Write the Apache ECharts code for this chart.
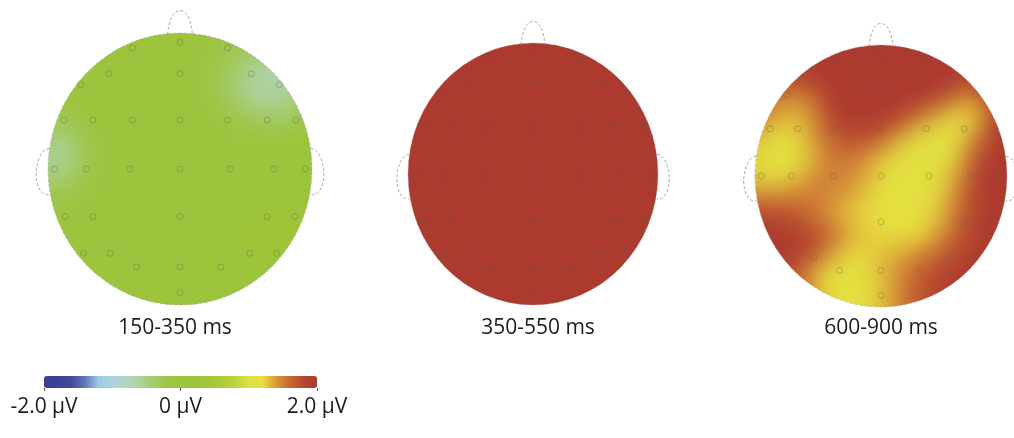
<!DOCTYPE html>
<html>
<head>
<meta charset="utf-8">
<script src="https://cdn.jsdelivr.net/npm/echarts@6/dist/echarts.min.js"></script>
<style>
  html, body { margin: 0; padding: 0; background: #fff; }
  #wrap { position: relative; width: 1014px; height: 438px; overflow: hidden; }
  #overlay { position: absolute; left: 0; top: 0; width: 1014px; height: 438px; }
  /* the map layer overhangs the page so the blur has colour to draw from at the edges */
  #maps { position: absolute; left: -100px; top: -100px; width: 1214px; height: 638px; filter: blur(12px); }
</style>
</head>
<body>
<div id="wrap">
  <div id="maps"></div>
  <div id="overlay"></div>
</div>
<script>
// ---- data -----------------------------------------------------------------
const TIME_WINDOWS = ['150-350 ms', '350-550 ms', '600-900 ms'];
const SCALE_MIN = -2;
const SCALE_MAX = 2;
const SCALE_TICK = 2;

// electrode sites, normalised head coordinates (x right, y towards the back)
const ELECTRODES = [
  [0, -0.93],
  [-0.36, -0.89], [0.36, -0.89],
  [-0.54, -0.70], [0, -0.70], [0.54, -0.70],
  [-0.75, -0.62], [0.75, -0.62],
  [-0.88, -0.36], [-0.66, -0.36], [-0.36, -0.36], [0, -0.36], [0.36, -0.36], [0.66, -0.36], [0.88, -0.36],
  [-0.95, 0], [-0.71, 0], [-0.38, 0], [0, 0], [0.38, 0], [0.71, 0], [0.95, 0],
  [-0.87, 0.35], [-0.66, 0.35], [0, 0.35], [0.66, 0.35], [0.87, 0.35],
  [-0.73, 0.62], [-0.53, 0.62], [0.53, 0.62], [0.73, 0.62],
  [-0.33, 0.72], [0, 0.72], [0.31, 0.72],
  [0, 0.91]
];

// scalp amplitude (µV) on a 15 x 15 raster, rows front to back, columns left to right
const MAP_150_350 = [
  [0.1, 0.1, 0.1, 0.1, 0.1, 0.1, 0.1, 0.1, 0.1, 0.0, -0.1, -0.15, -0.15, -0.1, 0.0],
  [0.1, 0.1, 0.1, 0.1, 0.1, 0.1, 0.1, 0.1, 0.05, -0.1, -0.25, -0.35, -0.35, -0.3, -0.1],
  [0.1, 0.1, 0.1, 0.1, 0.1, 0.1, 0.1, 0.05, -0.05, -0.25, -0.4, -0.6, -0.65, -0.5, -0.3],
  [0.1, 0.1, 0.1, 0.1, 0.1, 0.1, 0.1, 0.1, -0.05, -0.25, -0.5, -0.65, -0.7, -0.55, -0.3],
  [0.0, 0.0, 0.1, 0.1, 0.1, 0.1, 0.1, 0.1, 0.05, -0.1, -0.3, -0.45, -0.5, -0.4, -0.2],
  [-0.3, -0.4, -0.15, 0.0, 0.1, 0.1, 0.1, 0.1, 0.1, 0.05, -0.1, -0.15, -0.15, -0.1, 0.0],
  [-0.5, -0.6, -0.3, -0.05, 0.1, 0.1, 0.1, 0.1, 0.1, 0.1, 0.05, 0.0, 0.0, 0.05, 0.1],
  [-0.45, -0.55, -0.25, 0.0, 0.1, 0.1, 0.1, 0.1, 0.1, 0.1, 0.1, 0.1, 0.1, 0.1, 0.1],
  [-0.25, -0.3, -0.1, 0.05, 0.1, 0.1, 0.1, 0.1, 0.1, 0.1, 0.1, 0.15, 0.15, 0.15, 0.15],
  [-0.1, -0.1, 0.0, 0.1, 0.1, 0.1, 0.1, 0.1, 0.1, 0.15, 0.2, 0.25, 0.25, 0.25, 0.25],
  [0.0, 0.05, 0.1, 0.1, 0.1, 0.1, 0.1, 0.1, 0.15, 0.2, 0.25, 0.25, 0.25, 0.25, 0.25],
  [0.1, 0.1, 0.1, 0.1, 0.1, 0.1, 0.1, 0.1, 0.15, 0.2, 0.25, 0.25, 0.25, 0.25, 0.25],
  [0.1, 0.1, 0.1, 0.1, 0.1, 0.1, 0.1, 0.1, 0.15, 0.2, 0.2, 0.25, 0.25, 0.25, 0.25],
  [0.1, 0.1, 0.1, 0.1, 0.1, 0.1, 0.1, 0.1, 0.1, 0.15, 0.2, 0.2, 0.2, 0.2, 0.2],
  [0.1, 0.1, 0.1, 0.1, 0.1, 0.1, 0.1, 0.1, 0.1, 0.15, 0.2, 0.2, 0.2, 0.2, 0.2]
];

const MAP_350_550 = [
  [2, 2, 2, 2, 2, 2, 2, 2, 2, 2, 2, 2, 2, 2, 2],
  [2, 2, 2, 2, 2, 2, 2, 2, 2, 2, 2, 2, 2, 2, 2],
  [2, 2, 2, 2, 2, 2, 2, 2, 2, 2, 2, 2, 2, 2, 2],
  [2, 2, 2, 2, 2, 2, 2, 2, 2, 2, 2, 2, 2, 2, 2],
  [2, 2, 2, 2, 2, 2, 2, 2, 2, 2, 2, 2, 2, 2, 2],
  [2, 2, 2, 2, 2, 2, 2, 2, 2, 2, 2, 2, 2, 2, 2],
  [2, 2, 2, 2, 2, 2, 2, 2, 2, 2, 2, 2, 2, 2, 2],
  [2, 2, 2, 2, 2, 2, 2, 2, 2, 2, 2, 2, 2, 2, 2],
  [2, 2, 2, 2, 2, 2, 2, 2, 2, 2, 2, 2, 2, 2, 2],
  [2, 2, 2, 2, 2, 2, 2, 2, 2, 2, 2, 2, 2, 2, 2],
  [2, 2, 2, 2, 2, 2, 2, 2, 2, 2, 2, 2, 2, 2, 2],
  [2, 2, 2, 2, 2, 2, 2, 2, 2, 2, 2, 2, 2, 2, 2],
  [2, 2, 2, 2, 2, 2, 2, 2, 2, 2, 2, 2, 2, 2, 2],
  [2, 2, 2, 2, 2, 2, 2, 2, 2, 2, 2, 2, 2, 2, 2],
  [2, 2, 2, 2, 2, 2, 2, 2, 2, 2, 2, 2, 2, 2, 2]
];

const MAP_600_900 = [
  [2, 2, 2, 2, 2, 2, 2, 2, 2, 2, 2, 2, 2, 2, 2],
  [1.9, 1.9, 1.9, 2, 2, 2, 2, 2, 2, 2, 2, 2, 2, 2, 2],
  [1.8, 1.8, 1.8, 1.9, 2, 2, 2, 2, 2, 2, 2, 2, 1.9, 1.9, 2],
  [1.7, 1.55, 1.45, 1.45, 1.9, 2, 2, 2, 2, 2, 2, 1.55, 1.4, 1.8, 2],
  [1.55, 1.4, 1.3, 1.35, 1.75, 2, 2, 2, 1.9, 1.55, 1.3, 1.15, 1.2, 1.75, 2],
  [1.35, 1.15, 1.1, 1.3, 1.6, 1.75, 1.8, 1.7, 1.35, 1.1, 1.05, 1.1, 1.45, 1.95, 2],
  [1.25, 1.05, 1.05, 1.25, 1.5, 1.55, 1.5, 1.3, 1.1, 1.05, 1.05, 1.15, 1.7, 2, 2],
  [1.25, 1.1, 1.15, 1.35, 1.55, 1.5, 1.4, 1.2, 1.05, 1.05, 1.1, 1.35, 1.85, 2, 2],
  [1.5, 1.45, 1.5, 1.55, 1.5, 1.4, 1.3, 1.15, 1.05, 1.05, 1.15, 1.45, 1.85, 2, 2],
  [1.85, 1.8, 1.75, 1.6, 1.45, 1.3, 1.2, 1.15, 1.1, 1.1, 1.25, 1.55, 1.9, 2, 2],
  [2, 2, 1.95, 1.85, 1.7, 1.45, 1.3, 1.2, 1.15, 1.2, 1.35, 1.65, 1.9, 2, 2],
  [2, 2, 2, 1.9, 1.55, 1.25, 1.2, 1.3, 1.35, 1.45, 1.6, 1.8, 1.95, 2, 2],
  [1.95, 1.9, 1.85, 1.5, 1.15, 1.05, 1.1, 1.3, 1.45, 1.65, 1.8, 1.9, 2, 2, 2],
  [1.85, 1.85, 1.8, 1.5, 1.2, 1.1, 1.1, 1.25, 1.5, 1.7, 1.85, 2, 2, 2, 2],
  [1.85, 1.85, 1.8, 1.5, 1.25, 1.15, 1.15, 1.3, 1.5, 1.7, 1.85, 2, 2, 2, 2]
];

const MAPS = [MAP_150_350, MAP_350_550, MAP_600_900];

// ---- styling / layout -------------------------------------------------------
// colour scale from -2 µV to +2 µV in 0.2 µV steps
const COLORMAP = [
  '#3a3f94', '#3c4297', '#434a9c', '#6478b4', '#9ccbe5', '#aad5de', '#b2d5c0',
  '#aed1a0', '#a4cb6c', '#9dc545', '#9cc43d', '#9cc43a', '#a2c63a', '#aecb3b',
  '#c0d33d', '#dde140', '#e9de40', '#d99a36', '#c76a33', '#b7462f', '#ad3a2e'
];

const FONT = '"Open Sans", "Liberation Sans", sans-serif';
const TEXT_COLOR = '#1c1c1c';
const HEADS = [
  { cx: 180, cy: 169, rx: 132, ry: 136, labelX: 175 },
  { cx: 533, cy: 174, rx: 125, ry: 131, labelX: 538 },
  { cx: 881, cy: 176, rx: 126, ry: 131, labelX: 881 }
];
const LABEL_Y = 328;
const RASTER_PAD = 1.1;    // raster reaches a little past the scalp edge
const BACKING_PAD = 1.4;   // stretched copy underneath keeps the blur from pulling in white
const MAP_OFFSET = 100;    // the map layer starts this far above/left of the page
const BAR = { left: 44, top: 376, width: 273, height: 12 };

// ---- scalp maps (blurred, clipped to the scalp outline) ----------------------
const mapsEl = document.getElementById('maps');
const clipPath = HEADS.map(h => {
  const cx = h.cx + MAP_OFFSET, cy = h.cy + MAP_OFFSET;
  return `M ${cx - h.rx} ${cy} A ${h.rx} ${h.ry} 0 1 0 ${cx + h.rx} ${cy} ` +
         `A ${h.rx} ${h.ry} 0 1 0 ${cx - h.rx} ${cy} Z`;
}).join(' ');
mapsEl.style.clipPath = `path('${clipPath}')`;

function toCells(rows) {
  const out = [];
  rows.forEach((row, j) => row.forEach((v, i) => out.push([i, j, v])));
  return out;
}

const rasterGrid = (h, pad) => ({
  left: h.cx + MAP_OFFSET - pad * h.rx, top: h.cy + MAP_OFFSET - pad * h.ry,
  width: 2 * pad * h.rx, height: 2 * pad * h.ry
});
const layers = [BACKING_PAD, RASTER_PAD];
const grids = [], xAxes = [], yAxes = [], mapSeries = [];
layers.forEach(pad => {
  MAPS.forEach((m, k) => {
    const g = grids.length;
    grids.push(rasterGrid(HEADS[k], pad));
    xAxes.push({ type: 'category', gridIndex: g, show: false, data: m[0].map((_, i) => i) });
    yAxes.push({ type: 'category', gridIndex: g, show: false, inverse: true, data: m.map((_, j) => j) });
    mapSeries.push({
      type: 'heatmap', xAxisIndex: g, yAxisIndex: g, data: toCells(m),
      itemStyle: { borderWidth: 0 }, emphasis: { disabled: true }, silent: true
    });
  });
});

const mapChart = echarts.init(mapsEl, null, { renderer: 'canvas' });
mapChart.setOption({
  animation: false,
  grid: grids,
  xAxis: xAxes,
  yAxis: yAxes,
  visualMap: {
    type: 'continuous', show: false, min: SCALE_MIN, max: SCALE_MAX,
    seriesIndex: mapSeries.map((_, i) => i), inRange: { color: COLORMAP }
  },
  series: mapSeries
});

// ---- overlay: electrodes, head outline, labels, colour bar ------------------
function headOutline(params, api) {
  const c = api.coord([0, 0]);
  const e = api.coord([1, 1]);
  const rx = e[0] - c[0], ry = e[1] - c[1];
  const P = (x, y) => (c[0] + x * rx).toFixed(1) + ' ' + (c[1] + y * ry).toFixed(1);
  const line = { fill: 'none', stroke: 'rgba(140,140,140,0.75)', lineWidth: 1, lineDash: [3, 2] };
  const nose = `M ${P(-0.095, -0.985)} C ${P(-0.085, -1.10)} ${P(-0.05, -1.165)} ${P(0, -1.165)} ` +
               `C ${P(0.05, -1.165)} ${P(0.085, -1.10)} ${P(0.095, -0.985)}`;
  const ear = s => `M ${P(s * 0.99, -0.15)} C ${P(s * 1.06, -0.15)} ${P(s * 1.09, -0.03)} ${P(s * 1.09, 0.04)} ` +
                   `C ${P(s * 1.09, 0.13)} ${P(s * 1.05, 0.20)} ${P(s * 0.99, 0.19)}`;
  const rim = `M ${P(-1, 0)} A ${rx} ${ry} 0 1 0 ${P(1, 0)} A ${rx} ${ry} 0 1 0 ${P(-1, 0)} Z`;
  return {
    type: 'group',
    children: [
      { type: 'path', shape: { pathData: rim }, style: Object.assign({}, line, { stroke: 'rgba(150,150,150,0.45)' }) },
      { type: 'path', shape: { pathData: nose }, style: line },
      { type: 'path', shape: { pathData: ear(-1) }, style: line },
      { type: 'path', shape: { pathData: ear(1) }, style: line }
    ]
  };
}

const overlay = echarts.init(document.getElementById('overlay'), null, { renderer: 'canvas' });
const headGrids = HEADS.map(h => ({ left: h.cx - h.rx, top: h.cy - h.ry, width: 2 * h.rx, height: 2 * h.ry }));
const series = [];
HEADS.forEach((h, k) => {
  series.push({
    type: 'custom', xAxisIndex: k, yAxisIndex: k, silent: true, clip: false,
    data: [[0, 0]], renderItem: headOutline
  });
  series.push({
    type: 'scatter', xAxisIndex: k, yAxisIndex: k, silent: true,
    data: ELECTRODES, symbol: 'circle', symbolSize: 6,
    itemStyle: { color: 'transparent', borderColor: 'rgba(95,95,95,0.45)', borderWidth: 1 }
  });
});

overlay.setOption({
  animation: false,
  backgroundColor: 'transparent',
  grid: headGrids.concat([BAR]),
  xAxis: HEADS.map((h, k) => ({ type: 'value', gridIndex: k, min: -1, max: 1, show: false }))
    .concat([{
      type: 'value', gridIndex: 3, min: SCALE_MIN, max: SCALE_MAX, interval: SCALE_TICK,
      axisLine: { show: false }, splitLine: { show: false },
      axisTick: { show: true, length: 3, lineStyle: { color: '#555' } },
      axisLabel: {
        margin: 9, fontSize: 21, color: TEXT_COLOR, fontFamily: FONT,
        showMinLabel: true, showMaxLabel: true,
        formatter: v => (v === 0 ? '0' : v.toFixed(1)) + ' µV'
      }
    }]),
  yAxis: HEADS.map((h, k) => ({ type: 'value', gridIndex: k, min: -1, max: 1, inverse: true, show: false }))
    .concat([{ type: 'value', gridIndex: 3, show: false }]),
  visualMap: {
    type: 'continuous', orient: 'horizontal', seriesIndex: [],
    min: SCALE_MIN, max: SCALE_MAX, calculable: false, text: null, padding: 0,
    left: BAR.left, top: BAR.top, itemWidth: BAR.height, itemHeight: BAR.width,
    inRange: { color: COLORMAP }, hoverLink: false
  },
  graphic: TIME_WINDOWS.map((t, k) => ({
    type: 'text', x: HEADS[k].labelX, y: LABEL_Y, silent: true,
    style: {
      text: t, fontSize: 21, fontFamily: FONT, fill: TEXT_COLOR,
      align: 'center', verticalAlign: 'middle', textAlign: 'center', textVerticalAlign: 'middle'
    }
  })),
  series: series
});
</script>
</body>
</html>
